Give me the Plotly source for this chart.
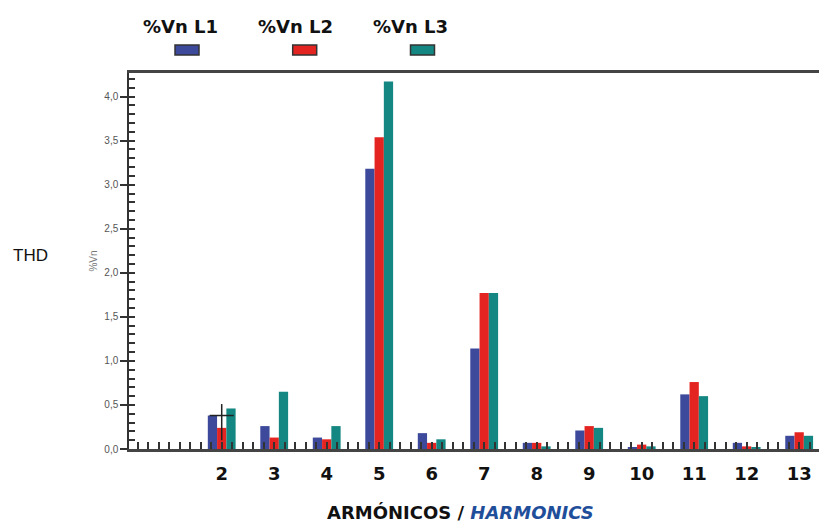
import plotly.graph_objects as go

# ---- data ----
harmonics = [2, 3, 4, 5, 6, 7, 8, 9, 10, 11, 12, 13]
vn_l1 = [0.38, 0.26, 0.13, 3.18, 0.18, 1.14, 0.07, 0.21, 0.02, 0.62, 0.07, 0.15]
vn_l2 = [0.24, 0.13, 0.11, 3.54, 0.07, 1.77, 0.07, 0.26, 0.05, 0.76, 0.03, 0.19]
vn_l3 = [0.46, 0.65, 0.26, 4.17, 0.11, 1.77, 0.03, 0.24, 0.03, 0.60, 0.02, 0.15]
series_names = ["%Vn L1", "%Vn L2", "%Vn L3"]
series_colors = ["#3d4a9b", "#e42421", "#158782"]
y_ticks = [0, 0.5, 1.0, 1.5, 2.0, 2.5, 3.0, 3.5, 4.0]

# cursor cross left on the chart at harmonic 2
cursor_x = [2]
cursor_y = [0.38]
cursor_up = [0.13]
cursor_down = [0.28]
cursor_half_w = [0.23]

OFF = 8  # page body margin
W, H = 827, 524
L, T = 129 - OFF, 73 - OFF
R = OFF
B = H - (449 - OFF)
pw, ph = W - L - R, H - T - B
YMAX = ph / 88.1


def px(sx):
    return (sx - OFF - L) / pw


def py(sy):
    return (H - B - (sy - OFF)) / ph


fig = go.Figure()
for name, vals, col in zip(series_names, [vn_l1, vn_l2, vn_l3], series_colors):
    fig.add_trace(go.Bar(x=harmonics, y=vals, name=name, marker=dict(color=col, line=dict(width=0)),
                         showlegend=False))

fig.add_trace(go.Scatter(
    x=cursor_x, y=cursor_y, mode="markers", marker=dict(size=1, color="rgba(0,0,0,0)"),
    error_y=dict(type="data", symmetric=False, array=cursor_up, arrayminus=cursor_down,
                 width=0, thickness=1.5, color="#222"),
    error_x=dict(type="data", array=cursor_half_w, width=0, thickness=1.5, color="#222"),
    showlegend=False, hoverinfo="skip"))

# helper trace so the inner-tick overlay axis is drawn
fig.add_trace(go.Scatter(x=[None], y=[None], yaxis="y2", mode="markers",
                         showlegend=False, hoverinfo="skip"))

tickcol = "#333"
fig.update_layout(
    width=W, height=H,
    margin=dict(l=L, r=R, t=T, b=B),
    paper_bgcolor="white", plot_bgcolor="white",
    barmode="group", bargap=0.47, bargroupgap=0,
    separators=",.",
    xaxis=dict(
        range=[0.234, 13.53], tickmode="array", tickvals=harmonics,
        ticktext=[str(h) for h in harmonics],
        ticks="inside", ticklen=7, tickwidth=1.5, tickcolor=tickcol,
        minor=dict(tickmode="linear", tick0=0, dtick=0.2, ticks="inside", ticklen=7,
                   tickwidth=1.5, tickcolor=tickcol, showgrid=False),
        showline=True, linecolor="#444", linewidth=3, mirror=True,
        showgrid=False, zeroline=False,
        tickfont=dict(family="DejaVu Sans", size=18, color="#111", weight="bold"),
        ticklabelstandoff=6,
    ),
    yaxis=dict(
        range=[0, YMAX], tickmode="array", tickvals=y_ticks, tickformat=".1f",
        ticks="outside", ticklen=7, tickwidth=1.5, tickcolor=tickcol,
        showline=True, linecolor="#333", linewidth=1.5,
        showgrid=False, zeroline=False,
        tickfont=dict(family="Liberation Sans", size=10, color="#555"),
        title=dict(text="%Vn", font=dict(family="Liberation Sans", size=10, color="#777"), standoff=5),
    ),
    yaxis2=dict(
        range=[0, YMAX], overlaying="y", side="left", tickmode="linear", tick0=0, dtick=0.1,
        ticks="inside", ticklen=6, tickwidth=1.5, tickcolor=tickcol,
        showticklabels=False, showline=False, showgrid=False, zeroline=False,
    ),
)

# x axis title
fig.add_annotation(text="<b>ARMÓNICOS / <i><span style='color:#1f4e9a'>HARMONICS</span></i></b>",
                   xref="paper", yref="paper", x=px(460), y=py(512), showarrow=False,
                   font=dict(family="DejaVu Sans", size=18, color="#111"),
                   xanchor="center", yanchor="middle")

# "THD" label
fig.add_annotation(text="THD", xref="paper", yref="paper",
                   x=px(30), y=py(255), showarrow=False,
                   font=dict(family="Liberation Sans", size=17, color="#111"),
                   xanchor="center", yanchor="middle")

# legend: text above a small swatch
legend_text_x = [180, 295, 410]
legend_sw_x = [187, 304.7, 422.5]
for name, col, tx, sx in zip(series_names, series_colors, legend_text_x, legend_sw_x):
    fig.add_annotation(text="<b>%s</b>" % name, xref="paper", yref="paper",
                       x=px(tx), y=py(27), showarrow=False,
                       font=dict(family="DejaVu Sans", size=18, color="#111"),
                       xanchor="center", yanchor="middle")
    fig.add_shape(type="rect", xref="paper", yref="paper",
                  x0=px(sx - 12), x1=px(sx + 12),
                  y0=py(55), y1=py(45),
                  fillcolor=col, line=dict(color="#333", width=1.5))

fig.write_html("out.html")
